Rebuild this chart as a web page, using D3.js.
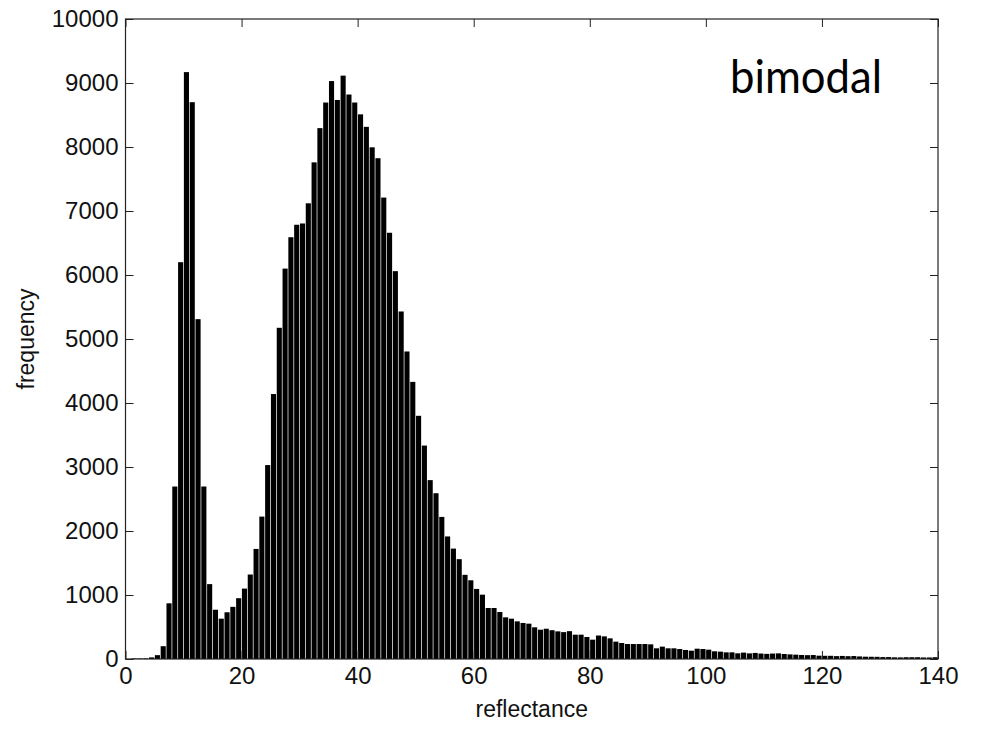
<!DOCTYPE html>
<html>
<head>
<meta charset="utf-8">
<script src="https://cdn.jsdelivr.net/npm/d3@7"></script>
<style>
  body { margin: 0; background: #fff; }
  text { font-family: "Liberation Sans", Arial, sans-serif; }
</style>
</head>
<body>
<div id="chart"></div>
<script>
/* Histogram of reflectance values (bimodal) */

// counts per bin, bin k covers reflectance [k, k+1)
const counts = [
    0, 8, 8, 10, 25, 60, 200, 870, 2695, 6200,
    9170, 8700, 5310, 2695, 1170, 770, 630, 730, 815, 950,
    1100, 1320, 1720, 2225, 3030, 4140, 5175, 6100, 6590, 6785,
    6805, 7120, 7760, 8295, 8695, 9030, 8735, 9115, 8820, 8695,
    8510, 8315, 7995, 7825, 7210, 6660, 6060, 5430, 4805, 4330,
    3800, 3335, 2795, 2590, 2220, 1915, 1725, 1560, 1315, 1230,
    1095, 1005, 797, 797, 734, 651, 630, 588, 563, 552,
    495, 458, 473, 450, 432, 420, 435, 380, 380, 344,
    302, 367, 354, 323, 271, 250, 234, 234, 234, 234,
    229, 167, 193, 167, 167, 156, 141, 130, 161, 156,
    146, 120, 115, 104, 104, 89, 100, 88, 95, 85,
    80, 85, 88, 78, 72, 68, 63, 60, 62, 52,
    50, 50, 45, 48, 44, 46, 40, 36, 35, 34,
    30, 30, 26, 25, 28, 28, 28, 24, 24, 28
];
const xTicks = [0, 20, 40, 60, 80, 100, 120, 140];
const yTicks = [0, 1000, 2000, 3000, 4000, 5000, 6000, 7000, 8000, 9000, 10000];
const xLabel = "reflectance";
const yLabel = "frequency";
const note = "bimodal";

const width = 983,
    height = 730,
    margin = ({top: 19, right: 45, bottom: 71, left: 125.5});

let svg = d3.select("#chart")
    .append("svg")
    .attr("width", width)
    .attr("height", height)
    .attr("viewBox", [0, 0, width, height]);

let x = d3.scaleLinear()
    .domain([0, 140])
    .range([margin.left, width - margin.right]);

let y = d3.scaleLinear()
    .domain([0, 10000])
    .range([height - margin.bottom, margin.top]);

// bars, a thin light gap between neighbours
svg.append("g")
    .selectAll("rect")
    .data(counts)
    .join("rect")
    .attr("fill", "#000")
    .attr("x", (d, i) => x(i) + 0.35)
    .attr("width", (d, i) => x(i + 1) - x(i) - 0.7)
    .attr("y", d => y(d))
    .attr("height", d => y(0) - y(d));

// box with inward ticks on all four sides
const axisStyle = g => {
    g.select(".domain").remove();
    g.selectAll(".tick line").attr("stroke", "#222");
    g.selectAll(".tick text")
        .attr("fill", "#111")
        .style("font-size", "24px");
};

svg.append("g")
    .attr("transform", `translate(0,${height - margin.bottom})`)
    .call(d3.axisBottom(x).tickValues(xTicks).tickSize(-8).tickPadding(8).tickFormat(d3.format("d")))
    .call(axisStyle);

svg.append("g")
    .attr("transform", `translate(${margin.left},0)`)
    .call(d3.axisLeft(y).tickValues(yTicks).tickSize(-8).tickPadding(7).tickFormat(d3.format("d")))
    .call(axisStyle);

svg.append("g")
    .attr("transform", `translate(0,${margin.top})`)
    .call(d3.axisTop(x).tickValues(xTicks).tickSize(-8).tickFormat(""))
    .call(axisStyle);

svg.append("g")
    .attr("transform", `translate(${width - margin.right},0)`)
    .call(d3.axisRight(y).tickValues(yTicks).tickSize(-8).tickFormat(""))
    .call(axisStyle);

svg.append("rect")
    .attr("x", margin.left)
    .attr("y", margin.top)
    .attr("width", width - margin.left - margin.right)
    .attr("height", height - margin.top - margin.bottom)
    .attr("fill", "none")
    .attr("stroke", "#222")
    .attr("stroke-width", 1.2);

// axis titles
svg.append("text")
    .attr("x", (x(0) + x(140)) / 2)
    .attr("y", 717)
    .attr("text-anchor", "middle")
    .attr("fill", "#111")
    .style("font-size", "23px")
    .text(xLabel);

svg.append("text")
    .attr("transform", `translate(34,${(y(0) + y(10000)) / 2}) rotate(-90)`)
    .attr("text-anchor", "middle")
    .attr("fill", "#111")
    .style("font-size", "23px")
    .text(yLabel);

svg.append("text")
    .attr("x", 730)
    .attr("y", 93)
    .attr("fill", "#000")
    .style("font-family", "Lato, 'Open Sans', sans-serif")
    .style("font-size", "46px")
    .attr("textLength", 152)
    .attr("lengthAdjust", "spacingAndGlyphs")
    .text(note);
</script>
</body>
</html>
